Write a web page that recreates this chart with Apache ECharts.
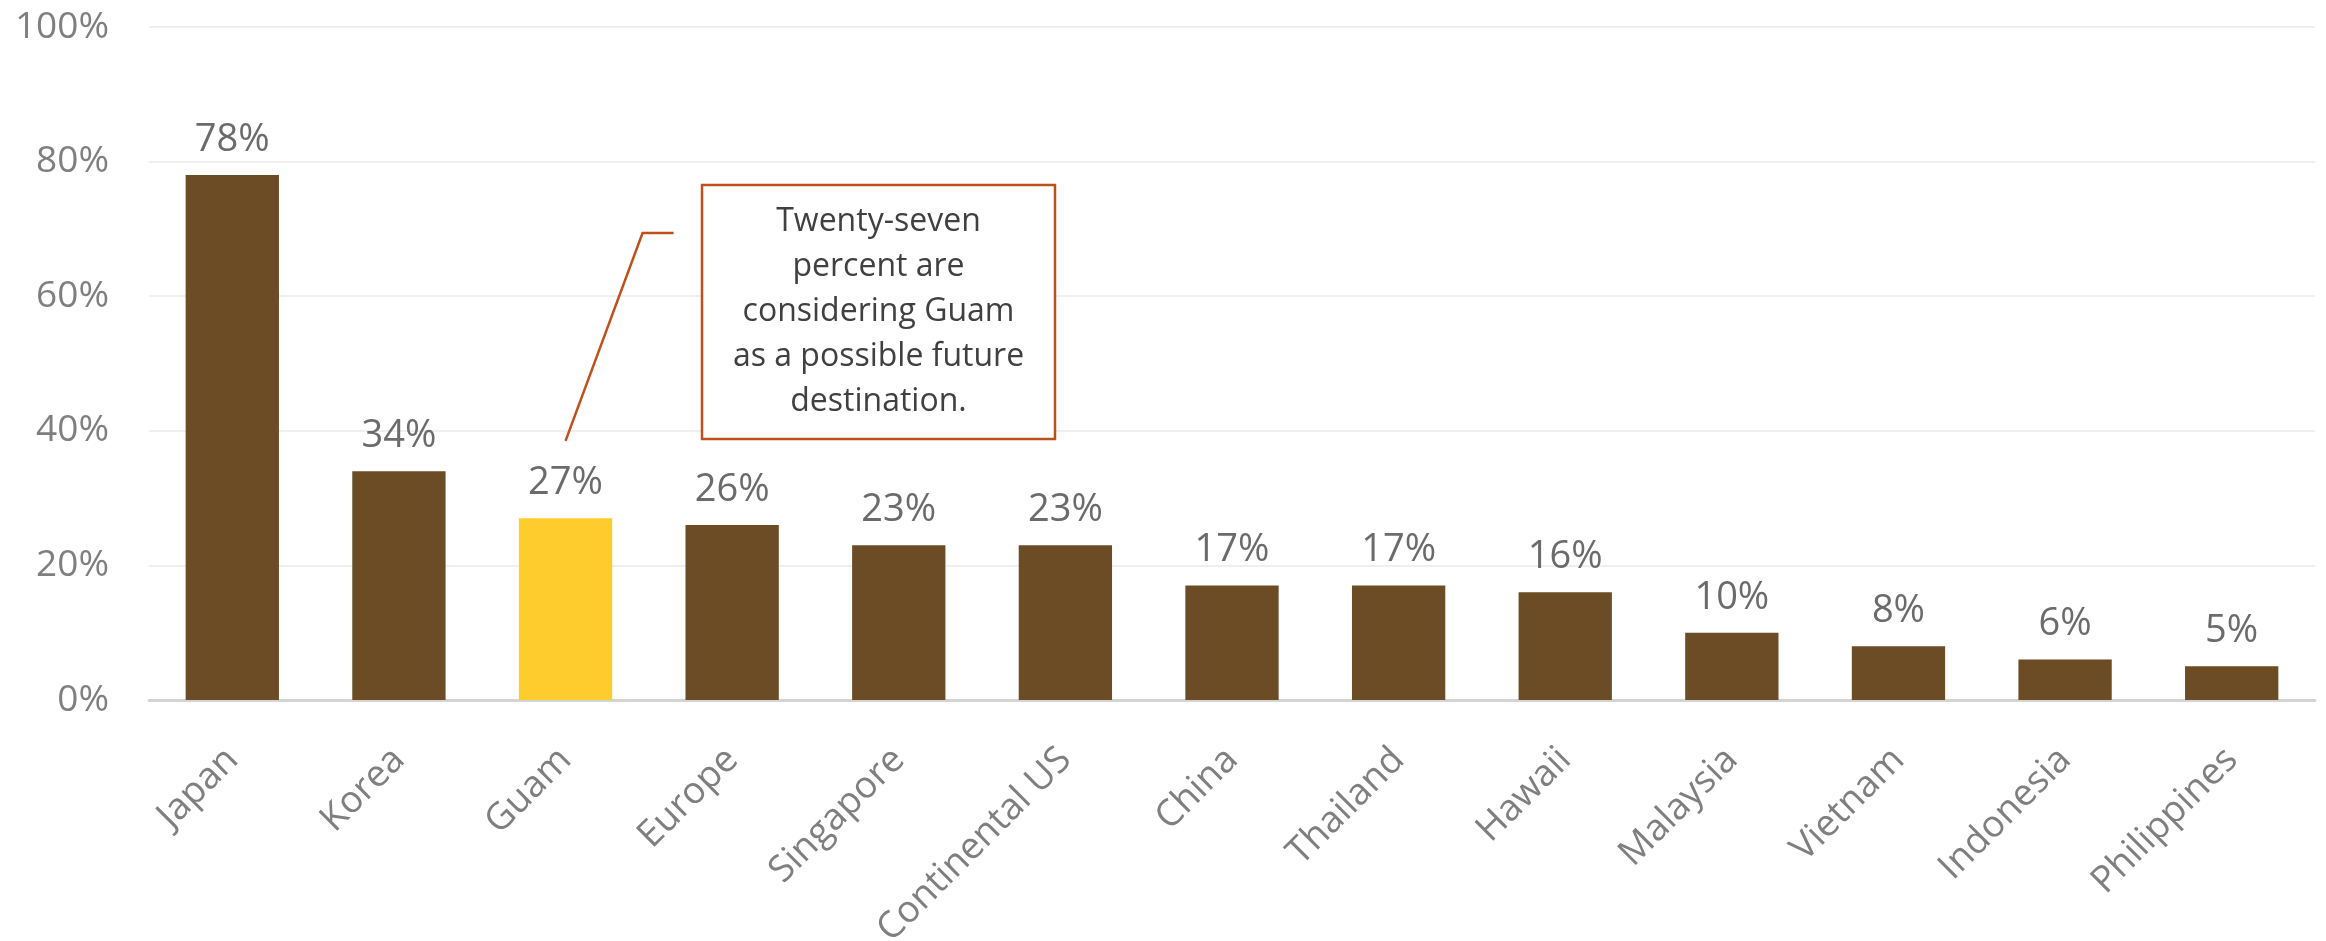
<!DOCTYPE html>
<html>
<head>
<meta charset="utf-8">
<script src="https://cdn.jsdelivr.net/npm/echarts@6/dist/echarts.min.js"></script>
<style>
  html, body { margin: 0; padding: 0; background: #ffffff; }
  #chart { width: 2326px; height: 941px; }
</style>
</head>
<body>
<div id="chart"></div>
<script>
// Destinations and share of respondents (%)
const categories = ['Japan', 'Korea', 'Guam', 'Europe', 'Singapore', 'Continental US',
  'China', 'Thailand', 'Hawaii', 'Malaysia', 'Vietnam', 'Indonesia', 'Philippines'];
const shares = [78, 34, 27, 26, 23, 23, 17, 17, 16, 10, 8, 6, 5];
const highlighted = 'Guam';
const yTicks = { min: 0, max: 100, interval: 20 };
const calloutLines = ['Twenty-seven', 'percent are', 'considering Guam', 'as a possible future', 'destination.'];

const BROWN = '#6B4C24';
const GOLD = '#FFCC2E';
const FONT = '"Open Sans", "Noto Sans", sans-serif';

const chart = echarts.init(document.getElementById('chart'), null, { renderer: 'canvas' });

chart.setOption({
  animation: false,
  backgroundColor: '#ffffff',
  grid: { left: 149, right: 11, top: 27, bottom: 241, outerBoundsMode: 'none', containLabel: false },
  xAxis: {
    type: 'category',
    data: categories,
    axisLine: { lineStyle: { color: '#d4d4d4', width: 3 } },
    axisTick: { show: false },
    axisLabel: {
      rotate: 45,
      margin: 54,
      interval: 0,
      color: '#7f7f7f',
      fontFamily: FONT,
      fontSize: 37
    }
  },
  yAxis: {
    type: 'value',
    min: yTicks.min,
    max: yTicks.max,
    interval: yTicks.interval,
    axisLine: { show: false },
    axisTick: { show: false },
    splitLine: { lineStyle: { color: '#efefef', width: 2 } },
    axisLabel: {
      formatter: '{value}%',
      margin: 40,
      color: '#7f7f7f',
      fontFamily: FONT,
      fontSize: 37
    }
  },
  series: [{
    type: 'bar',
    barCategoryGap: '44%',
    data: shares.map((v, i) => ({
      value: v,
      itemStyle: { color: categories[i] === highlighted ? GOLD : BROWN }
    })),
    label: {
      show: true,
      position: 'top',
      distance: 16,
      formatter: '{c}%',
      color: '#6b6b6b',
      fontFamily: FONT,
      fontSize: 38
    }
  }]
});

// Callout box with a leader line pointing down at the Guam bar
const guamIdx = categories.indexOf(highlighted);
const anchor = chart.convertToPixel({ seriesIndex: 0 }, [guamIdx, 38.5]);
const box = { x: 702, y: 185, w: 353, h: 254 };
const elbow = [anchor[0] + 77, 233];
const lineEnd = [elbow[0] + 31, 233];

chart.setOption({
  graphic: [
    {
      type: 'polyline',
      shape: { points: [anchor, elbow, lineEnd] },
      style: { stroke: '#C0501A', lineWidth: 2.5, fill: null }
    },
    {
      type: 'rect',
      shape: { x: box.x, y: box.y, width: box.w, height: box.h },
      style: { fill: '#ffffff', stroke: '#C0501A', lineWidth: 2.5 }
    },
    {
      type: 'text',
      x: box.x + box.w / 2,
      y: box.y + box.h / 2,
      style: {
        text: calloutLines.join('\n'),
        align: 'center',
        verticalAlign: 'middle',
        lineHeight: 45,
        fontSize: 32,
        fontFamily: FONT,
        fill: '#404040'
      }
    }
  ]
});
</script>
</body>
</html>
